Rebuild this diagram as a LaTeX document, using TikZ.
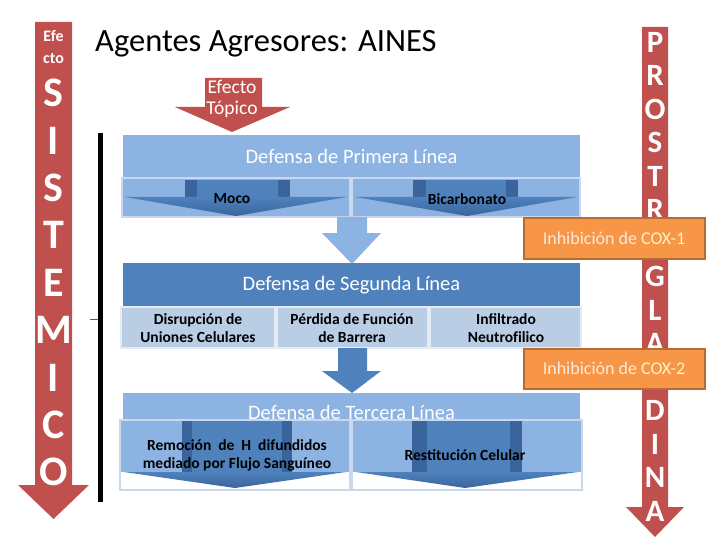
\documentclass[tikz,border=0pt]{standalone}
\usepackage{fontspec}
\setmainfont{Carlito}
\definecolor{Rojo}{HTML}{C0504D}
\definecolor{Azul}{HTML}{4F81BD}
\definecolor{AzulClaro}{HTML}{8DB3E2}
\definecolor{AzulPalido}{HTML}{B9CDE5}
\definecolor{AzulBorde}{HTML}{C9D8EC}
\definecolor{AzulOscuro}{HTML}{3A659C}
\definecolor{Naranja}{HTML}{F79646}
\definecolor{NaranjaBorde}{HTML}{B66D31}
\definecolor{Crema}{HTML}{FDEADA}
\definecolor{Amarillo}{HTML}{FFF3C4}

\begin{document}
\begin{tikzpicture}[
  x=1pt,y=-1pt,
  letra/.style = {text=white,font=\fontsize{42}{42}\selectfont\bfseries,inner sep=0pt},
  letrita/.style = {text=white,font=\fontsize{31}{31}\selectfont\bfseries,inner sep=0pt},
  cabecera/.style = {minimum width=457pt,inner sep=0pt,text=white,
    font=\fontsize{20.5}{21}\selectfont},
  celda/.style = {draw=AzulBorde,line width=2pt},
  etiqueta/.style = {align=center,inner sep=0pt,
    font=\fontsize{15.5}{18}\selectfont\bfseries},
  inhibe/.style = {fill=Naranja,draw=NaranjaBorde,line width=2pt,
    minimum width=181pt,minimum height=40pt,text=Crema,
    font=\fontsize{18}{18}\selectfont}
  ]
  \useasboundingbox (0,0) rectangle (720,540);
  \fill[white] (0,0) rectangle (720,540);
  % flecha izquierda: efecto sistemico
  \fill[Rojo] (35,22) -- (72,22) -- (72,485) -- (89,485) -- (53.5,519)
    -- (18,485) -- (35,485) -- cycle;
  \node[text=white,font=\fontsize{16}{16}\selectfont\bfseries] (efe) at (53.5,36) {Efe};
  \node[text=white,font=\fontsize{16}{16}\selectfont\bfseries] (cto) at (53.5,59) {cto};
  \foreach \l [count=\i from 0] in {S,I,S,T,E,M,I,C,O}
    \node[letra] (sis-\i) at (53.5,{93+47.4*\i}) {\l};
  \draw[line width=5pt] (100,133) -- (100,502);
  \draw[gray!70!black,thin] (90,319) -- (98,319);
  % titulo
  \node[anchor=west,inner sep=0pt,font=\fontsize{32.5}{33}\selectfont] (titulo)
    at (95,44) {Agentes Agresores: AINES};
  % efecto topico
  \fill[Rojo] (205,78) -- (262,78) -- (262,107) -- (290,107) -- (232,132)
    -- (175,107) -- (205,107) -- cycle;
  \node[text=white,font=\fontsize{19.5}{20}\selectfont] (efecto) at (232,87) {Efecto};
  \node[text=white,font=\fontsize{19.5}{20}\selectfont] (topico) at (232,109) {Tópico};
  %
  % primera linea
  \node[cabecera,fill=AzulClaro,minimum height=43pt] (prim) at (351.5,156.5)
    {Defensa de Primera Línea};
  \foreach \xl/\xr/\so/\si/\sd/\se/\hx in
      {122/350/185/197/278/290/236,352/580/413/426/506/518/467} {
    \fill[AzulClaro] (\xl,178) rectangle (\xr,217);
    \fill[AzulOscuro] (\so,180) rectangle (\se,197);
    \fill[Azul] (\si,180) rectangle (\sd,197);
    \shade[top color=Azul,bottom color=AzulOscuro] (\xl+3,197) -- (\xr-3,197)
      -- (\hx,216) -- cycle;
    \draw[celda] (\xl,178) rectangle (\xr,217);
  }
  \node[etiqueta] (moco) at (232,199) {Moco};
  \node[etiqueta] (bicarb) at (467,199) {Bicarbonato};
  \coordinate (f1) at (352,217);
  \fill[AzulClaro] ([xshift=-15pt]f1) -- ++(0,16) -- ++(-15,0) -- (352,264)
    -- (381,233) -- ++(-14,0) -- ([xshift=15pt]f1) -- cycle;
  %
  % segunda linea
  \node[cabecera,fill=Azul,minimum height=44pt] (seg) at (351.5,285)
    {Defensa de Segunda Línea};
  \foreach \xl/\xr in {121/275,277/428,430/581}
    \draw[fill=AzulPalido,draw=AzulBorde!50!white,line width=1.5pt]
      (\xl,307) rectangle (\xr,348);
  \node[etiqueta] (disrup) at (198,328) {Disrupción de\\Uniones Celulares};
  \node[etiqueta] (perdida) at (352,328) {Pérdida de Función\\de Barrera};
  \node[etiqueta] (infil) at (506,328) {Infiltrado\\Neutrof\kern0pt ilico};
  \coordinate (f2) at (352,348);
  \fill[Azul] ([xshift=-14pt]f2) -- ++(0,23) -- ++(-16,0) -- (352,393)
    -- (381,371) -- ++(-14,0) -- ([xshift=15pt]f2) -- cycle;
  %
  % tercera linea
  \fill[AzulClaro] (123,393) rectangle (580,420);
  \node[cabecera,text=white] (ter) at (351.5,412) {Defensa de Tercera Línea};
  \foreach \xl/\xr/\so/\si/\sd/\se/\hx in
      {120/350/182/192/282/292/235,352/582/412/427/510/522/465} {
    \fill[AzulClaro] (\xl,420) rectangle (\xr,472);
    \fill[white] (\xl,472) rectangle (\xr,490);
    \fill[AzulOscuro] (\so,421) rectangle (\se,472);
    \fill[Azul] (\si,421) rectangle (\sd,472);
    \shade[top color=Azul,bottom color=AzulOscuro] (\xl+4,472) -- (\xr-4,472)
      -- (\hx,488) -- cycle;
    \draw[celda] (\xl,420) rectangle (\xr,490);
  }
  \node[etiqueta] (remocion) at (237,455)
    {Remoción\ \ de\ \ H\ \ difundidos\\mediado por Flujo Sanguíneo};
  \node[etiqueta] (restit) at (465,455) {Restitución Celular};
  %
  % flecha derecha: prostaglandina
  \fill[Rojo] (642,27) -- (668,27) -- (668,507) -- (684,507) -- (655,537)
    -- (626,507) -- (642,507) -- cycle;
  \foreach \l/\i in {P/0,R/1,O/2,S/3,T/4,R/5,G/7,L/8,A/9,D/11,I/12,N/13,A/14}
    \node[letrita] (pg-\i) at (655,{42+33.5*\i}) {\l};
  \node[inhibe] (cox1) at (614,238.5)
    {Inhibición de \textcolor{Amarillo}{COX-1}};
  \node[inhibe] (cox2) at (614,368.5)
    {Inhibición de \textcolor{Amarillo}{COX-2}};
\end{tikzpicture}
\end{document}
